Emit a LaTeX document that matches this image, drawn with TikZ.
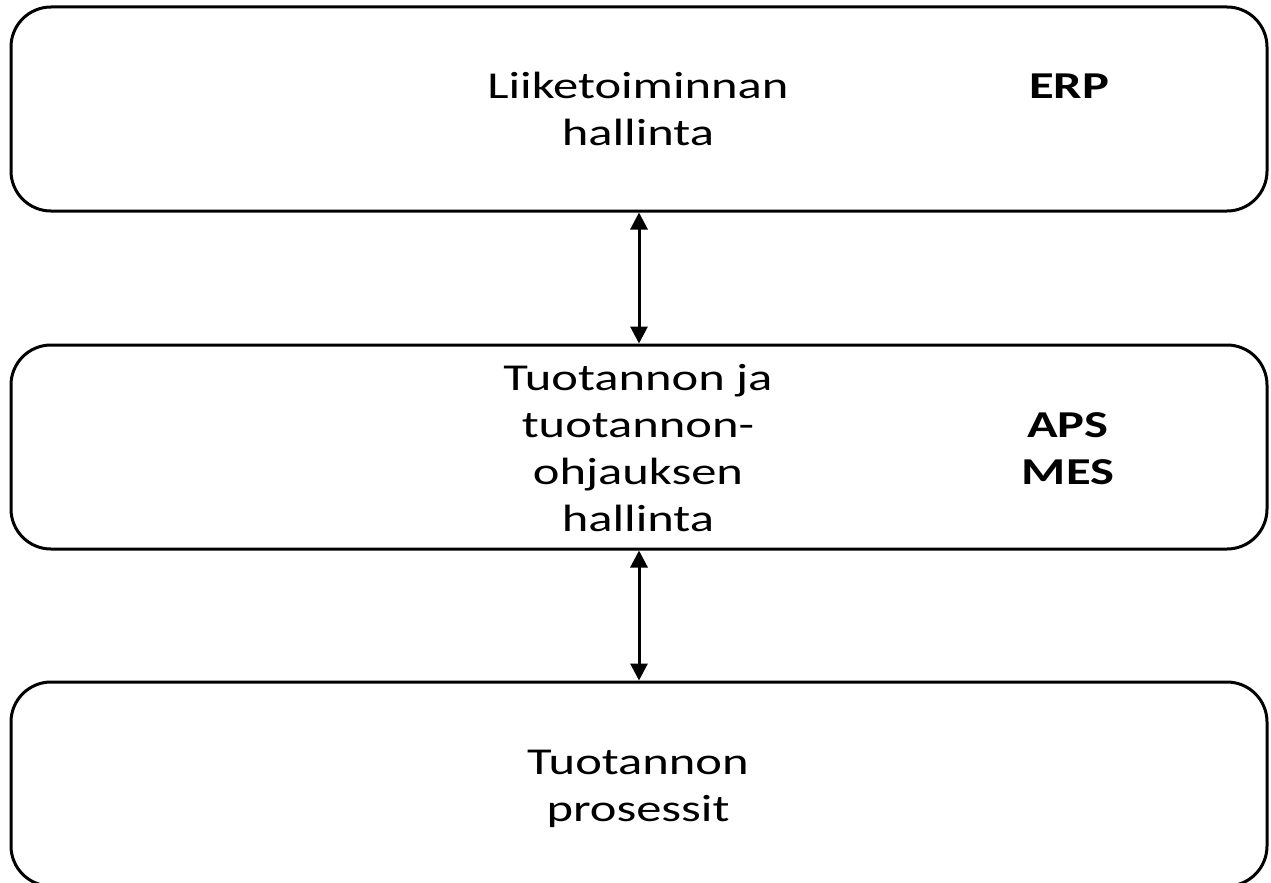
\documentclass[tikz,border=0pt]{standalone}
\usepackage{fontspec}
\setmainfont{Carlito}
\usetikzlibrary{arrows.meta}
\tikzset{
  layerbox/.style={draw=black, line width=3pt, rounded corners=40pt,
    minimum width=1256pt, minimum height=204pt, inner sep=0pt},
  label/.style={anchor=base, inner sep=0pt, xscale=1.33,
    font=\fontsize{38}{47}\selectfont},
  tag/.style={label, font=\fontsize{38}{47}\selectfont\bfseries},
  link/.style={line width=3pt,
    {Triangle[width=17pt,length=17pt]}-{Triangle[width=17pt,length=17pt]}},
}
\begin{document}
\begin{tikzpicture}[x=1pt, y=-1pt]
  \useasboundingbox (0,0) rectangle (1271,883);

  % the three management layers
  \node[layerbox] (erp) at (639,109) {};
  \node[layerbox] (mes) at (639,447) {};
  \node[layerbox] (proc) at (639,784) {};

  % layer descriptions
  \node[label] (erptxt) at (638,99)
    {\begin{tabular}[t]{@{}c@{}}Liiketoiminnan\\hallinta\end{tabular}};
  \node[label] (mestxt) at (638,390)
    {\begin{tabular}[t]{@{}c@{}}Tuotannon ja\\tuotannon-\\ohjauksen\\hallinta\end{tabular}};
  \node[label] (proctxt) at (638,774)
    {\begin{tabular}[t]{@{}c@{}}Tuotannon\\prosessit\end{tabular}};

  % system abbreviations
  \node[tag] (erptag) at (1069,99) {ERP};
  \node[tag] (mestag) at (1068,437)
    {\begin{tabular}[t]{@{}c@{}}APS\\MES\end{tabular}};

  % information flow between the layers
  \draw[link] (erp.south -| 639,0) -- (mes.north -| 639,0);
  \draw[link] (mes.south -| 639,0) -- (proc.north -| 639,0);
\end{tikzpicture}
\end{document}
